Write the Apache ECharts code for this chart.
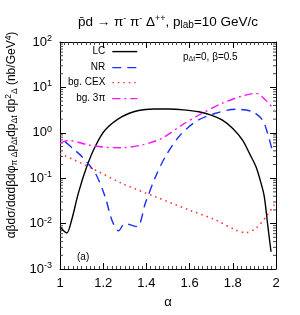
<!DOCTYPE html>
<html><head><meta charset="utf-8">
<script src="https://cdn.jsdelivr.net/npm/echarts@6/dist/echarts.min.js"></script>
<style>html,body{margin:0;padding:0;background:#fff}#c{width:300px;height:315px}</style>
</head><body><div id="c"></div>
<script>
var lcAlpha = [1.0, 1.031, 1.054, 1.085, 1.124, 1.163, 1.209, 1.287, 1.364, 1.434, 1.504, 1.573, 1.643, 1.700, 1.752, 1.800, 1.845, 1.880, 1.907, 1.930, 1.946, 1.962, 1.977];
var lcVals  = [0.0085, 0.0062, 0.012, 0.047, 0.18, 0.5, 1.15, 2.26, 3.1, 3.35, 3.35, 3.2, 2.9, 2.45, 1.9, 1.25, 0.69, 0.33, 0.18, 0.08, 0.039, 0.009, 0.0024];
var nrAlpha = [1.023, 1.06, 1.101, 1.163, 1.209, 1.24, 1.271, 1.30, 1.357, 1.395, 1.442, 1.488, 1.55, 1.628, 1.721, 1.814, 1.892, 1.938, 1.961, 1.98];
var nrVals  = [0.64, 0.45, 0.3, 0.13, 0.039, 0.012, 0.0069, 0.0100, 0.0086, 0.028, 0.107, 0.3, 0.82, 1.76, 2.7, 3.3, 2.9, 1.9, 0.98, 0.46];
var cexAlpha = [1.0, 1.132, 1.287, 1.442, 1.597, 1.721, 1.814, 1.86, 1.907, 1.953, 1.992];
var cexVals  = [0.35, 0.18, 0.077, 0.039, 0.02, 0.012, 0.0072, 0.0063, 0.0079, 0.014, 0.026];
var pi3Alpha = [1.0, 1.039, 1.132, 1.209, 1.287, 1.38, 1.473, 1.566, 1.659, 1.752, 1.845, 1.907, 1.953, 1.992];
var pi3Vals  = [0.59, 0.68, 0.54, 0.48, 0.47, 0.54, 0.76, 1.5, 2.7, 4.5, 6.5, 7.4, 5.2, 3.2];
var xTicks = [1, 1.2, 1.4, 1.6, 1.8, 2];
var yDecades = [0.001, 0.01, 0.1, 1, 10];
var minorMult = [2, 3, 4, 5, 6, 7, 8, 9];
var seriesNames = ['LC', 'NR', 'bg. CEX', 'bg. 3\u03c0'];

function pairs(a, v) { return a.map(function (x, i) { return [x, v[i]]; }); }
var minorTickData = [];
yDecades.forEach(function (d) {
  minorMult.forEach(function (m) { minorTickData.push([1, d * m]); minorTickData.push([2, d * m]); });
});
var FONT = 'Liberation Sans';
var chart = echarts.init(document.getElementById('c'), null, {renderer: 'canvas'});
var legendTops = [46, 62, 77, 93];
var clear = 'rgba(0,0,0,0)';
var legends = seriesNames.map(function (n, i) {
  return {
    orient: 'horizontal', right: 162, top: legendTops[i], align: 'right',
    itemWidth: 25, itemHeight: 14, padding: 0,
    data: [n], selectedMode: false,
    itemStyle: {color: clear, borderColor: clear, borderWidth: 0, opacity: 0},
    lineStyle: {width: 1.4},
    textStyle: {fontSize: 10, color: '#000', fontFamily: FONT, padding: [0, 2, 0, 0]}
  };
});
chart.setOption({
  animation: false,
  backgroundColor: '#fff',
  textStyle: {fontFamily: FONT},
  title: {
    text: 'p\u0304d \u2192 \u03c0{sup|-} \u03c0{sup|-} \u0394{sup|++}, p{sub|lab}=10 GeV/c',
    left: 163, top: 9, textAlign: 'center',
    textStyle: {fontSize: 13.5, fontWeight: 'normal', color: '#000', fontFamily: FONT,
      rich: {
        sup: {fontSize: 9, verticalAlign: 'top', padding: [0, 0, 6, 0], color: '#000', fontFamily: FONT},
        sub: {fontSize: 10, padding: [6, 0, 0, 0], color: '#000', fontFamily: FONT}
      }}
  },
  grid: {left: 60, right: 24, top: 42, bottom: 46, containLabel: false, outerBoundsMode: 'none'},
  legend: legends,
  xAxis: [{
    type: 'value', min: 1, max: 2, interval: 0.2,
    name: '\u03b1', nameLocation: 'middle', nameGap: 27,
    nameTextStyle: {fontSize: 13, color: '#000', fontFamily: FONT},
    axisLine: {lineStyle: {color: '#000', width: 1}},
    axisTick: {inside: true, length: 6, lineStyle: {color: '#000'}},
    minorTick: {show: true, splitNumber: 10, length: 3, lineStyle: {color: '#444'}},
    axisLabel: {fontSize: 13, color: '#000', margin: 8, fontFamily: FONT,
      formatter: function (v) { return String(Math.round(v * 10) / 10); }},
    splitLine: {show: false}
  }, {
    type: 'value', min: 1, max: 2, interval: 0.2, position: 'top',
    axisLine: {show: true, lineStyle: {color: '#000'}},
    axisTick: {inside: true, length: 6, lineStyle: {color: '#000'}},
    minorTick: {show: true, splitNumber: 10, length: 3, lineStyle: {color: '#444'}},
    axisLabel: {show: false}, splitLine: {show: false}
  }],
  yAxis: [{
    type: 'log', logBase: 10, min: 0.001, max: 100,
    axisLine: {show: true, lineStyle: {color: '#000'}},
    axisTick: {inside: true, length: 6, lineStyle: {color: '#000'}},
    minorTick: {show: false},
    axisLabel: {fontSize: 13, color: '#000', margin: 8, fontFamily: FONT,
      formatter: function (v) { return '10{sup|' + Math.round(Math.log10(v)) + '}'; },
      rich: {sup: {fontSize: 9, verticalAlign: 'top', padding: [0, 0, 7, 0], color: '#000', fontFamily: FONT}}},
    splitLine: {show: false}
  }, {
    type: 'log', logBase: 10, min: 0.001, max: 100, position: 'right',
    axisLine: {show: true, lineStyle: {color: '#000'}},
    axisTick: {inside: true, length: 6, lineStyle: {color: '#000'}},
    minorTick: {show: false},
    axisLabel: {show: false}, splitLine: {show: false}
  }],
  graphic: [
    {type: 'text', x: 12, y: 135, rotation: Math.PI / 2, style: {
      text: '\u03b1\u03b2d\u03c3/d\u03b1d\u03b2d\u03c6{sub|\u03c0 \u0394}p{sub|\u0394t}dp{sub|\u0394t} dp{sup|2}{sub|\u0394} (nb/GeV{sup|4})',
      align: 'center', verticalAlign: 'middle',
      fontSize: 12, fill: '#000', fontFamily: FONT,
      rich: {
        sup: {fontSize: 8.5, verticalAlign: 'top', padding: [0, 0, 6, 0], fill: '#000', fontFamily: FONT},
        sub: {fontSize: 8.5, padding: [6, 0, 0, 0], fill: '#000', fontFamily: FONT}
      }}},
    {type: 'text', left: 183, top: 52, style: {
      text: 'p{sub|\u0394t}=0, \u03b2=0.5', fontSize: 10, fill: '#000', fontFamily: FONT,
      rich: {sub: {fontSize: 7, padding: [5, 0, 0, 0], fill: '#000', fontFamily: FONT}}}},
    {type: 'text', left: 77, top: 252, style: {text: '(a)', fontSize: 10, fill: '#000', fontFamily: FONT}}
  ],
  series: [
    {name: seriesNames[0], type: 'line', symbol: 'none', smooth: 0.3, data: pairs(lcAlpha, lcVals),
     lineStyle: {color: '#000', width: 1.4}, itemStyle: {color: '#000'}},
    {name: seriesNames[1], type: 'line', symbol: 'none', smooth: 0.3, data: pairs(nrAlpha, nrVals),
     lineStyle: {color: '#1a2cff', width: 1.4, type: [9, 6]}, itemStyle: {color: '#1a2cff'}},
    {name: seriesNames[2], type: 'line', symbol: 'none', smooth: 0.3, data: pairs(cexAlpha, cexVals),
     lineStyle: {color: '#ff3030', width: 1.6, type: [1.5, 4]}, itemStyle: {color: '#ff3030'}},
    {name: seriesNames[3], type: 'line', symbol: 'none', smooth: 0.3, data: pairs(pi3Alpha, pi3Vals),
     lineStyle: {color: '#ff10ff', width: 1.4, type: [8, 4, 2, 4]}, itemStyle: {color: '#ff10ff'}},
    {name: 'yMinorTicks', type: 'custom', silent: true, clip: false, data: minorTickData,
     renderItem: function (params, api) {
       var xv = api.value(0);
       var p = api.coord([xv, api.value(1)]);
       var dir = xv === 1 ? 1 : -1;
       return {type: 'line', shape: {x1: p[0], y1: p[1], x2: p[0] + dir * 3, y2: p[1]},
               style: {stroke: '#444', lineWidth: 1}};
     }}
  ]
});
</script></body></html>
